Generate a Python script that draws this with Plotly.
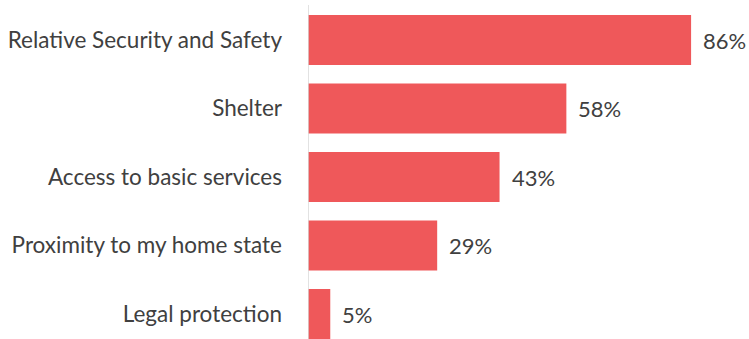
import plotly.graph_objects as go

categories = [
    "Relative Security and Safety",
    "Shelter",
    "Access to basic services",
    "Proximity to my home state",
    "Legal protection",
]
values = [86, 58, 43, 29, 5]
value_labels = [f"{v}%" for v in values]

bar_color = "#EF585A"
text_color = "#404040"
font_family = "Lato"

fig = go.Figure(
    go.Bar(
        x=values,
        y=categories,
        orientation="h",
        marker=dict(color=bar_color, line=dict(width=0)),
        hoverinfo="skip",
    )
)

for cat, v, lab in zip(categories, values, value_labels):
    fig.add_annotation(
        x=v, y=cat, text=lab, showarrow=False,
        xanchor="left", yanchor="middle", xshift=10,
        font=dict(family=font_family, size=22, color=text_color),
    )

# thin vertical baseline at zero
fig.add_shape(
    type="line", xref="x", yref="paper",
    x0=0, x1=0, y0=0, y1=0.985,
    line=dict(color="#D9D9D9", width=1.5),
)

fig.update_layout(
    width=749, height=339,
    margin=dict(l=308, r=0, t=0, b=0),
    paper_bgcolor="white", plot_bgcolor="white",
    bargap=0.27,
    showlegend=False,
    font=dict(family=font_family, color=text_color),
)
fig.update_xaxes(range=[0, 99], visible=False, showgrid=False, zeroline=False)
fig.update_yaxes(
    categoryorder="array", categoryarray=categories,
    range=[4.365, -0.584],
    showgrid=False, zeroline=False, showline=False,
    ticks="", ticklabelstandoff=25,
    tickfont=dict(family=font_family, size=22.5, color=text_color),
)

fig.write_html("out.html")
